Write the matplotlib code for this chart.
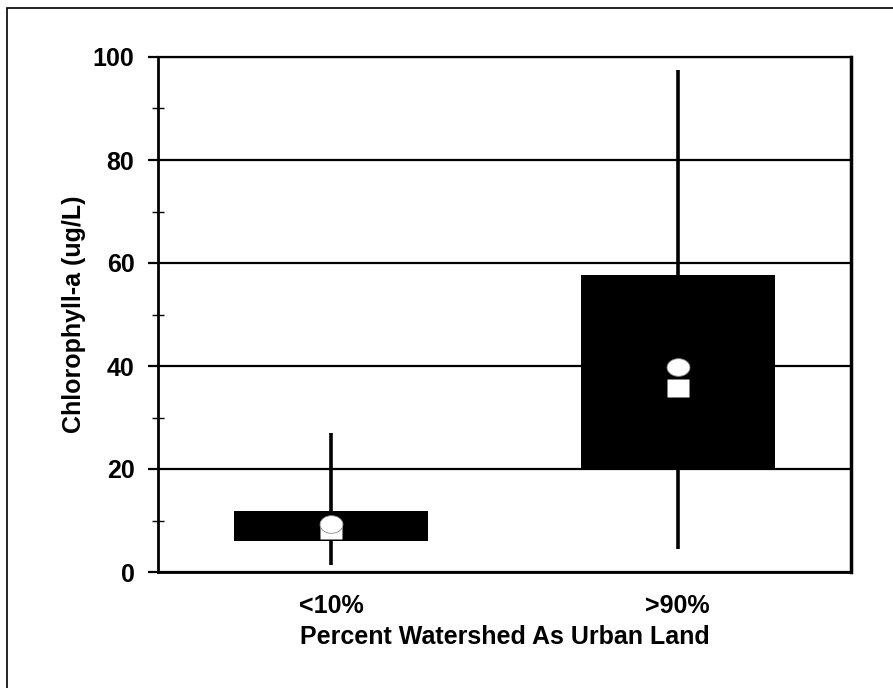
import numpy as np
import matplotlib
matplotlib.use("Agg")
import matplotlib.pyplot as plt
from matplotlib.patches import Rectangle

plt.rcParams['font.family'] = ['Liberation Sans', 'DejaVu Sans']
plt.rcParams['font.weight'] = 'bold'

# data
categories = ['<10%', '>90%']
q1 = [6.0, 20.2]
q3 = [11.8, 57.7]
whisk_lo = [1.4, 4.5]
whisk_hi = [27.0, 97.5]
mean = [9.3, 39.9]
median = [8.1, 35.7]

pos = np.arange(1, len(categories) + 1)
fs = 18

fig = plt.figure(figsize=(8.93, 6.88), dpi=100)
ax = fig.add_axes([158/893, 1 - 572/688, (851 - 158)/893, (572 - 57)/688])

# outer frame (cut off at right and bottom like the original)
fig.patches.append(Rectangle((7/893, -0.1), 1.2, 1 - 8/688 + 0.1,
                             transform=fig.transFigure, fill=False,
                             lw=1.2, ec='black'))

ax.set_xlim(0.5, 2.5)
ax.set_ylim(0, 100)
ax.set_yticks(np.arange(0, 101, 20))
ax.set_yticks(np.arange(10, 100, 20), minor=True)
ax.yaxis.grid(True, which='major', color='black', lw=1.6, zorder=0)
ax.set_axisbelow(True)

ax.vlines(pos, whisk_lo, whisk_hi, color='black', lw=2.6, zorder=2)
ax.bar(pos, np.array(q3) - np.array(q1), bottom=q1, width=0.56,
       color='black', zorder=3)

t = np.linspace(0, 2*np.pi, 60)
ell = list(zip(1.3*np.cos(t), np.sin(t)))
rect = [(-1.3, -1), (1.3, -1), (1.3, 1), (-1.3, 1), (-1.3, -1)]
ax.plot(pos, median, ls='none', marker=rect, ms=16, mfc='white', mec='none', zorder=4)
ax.plot(pos, mean, ls='none', marker=ell, ms=16.5, mfc='white', mec='#888888',
        mew=0.6, zorder=5)

ax.set_xticks(pos)
ax.set_xticklabels(categories, fontsize=fs, fontweight='bold')
ax.tick_params(axis='x', length=0, pad=16)
ax.tick_params(axis='y', which='major', length=7, width=1.6, labelsize=fs, pad=10)
ax.tick_params(axis='y', which='minor', direction='inout', length=9, width=1)

for s in ax.spines.values():
    s.set_color('black')
ax.spines['left'].set_linewidth(2)
ax.spines['bottom'].set_linewidth(2)
ax.spines['top'].set_linewidth(1.6)
ax.spines['right'].set_linewidth(2.5)

ax.set_ylabel('Chlorophyll-a (ug/L)', fontsize=fs, fontweight='bold', labelpad=5)
ax.set_xlabel('Percent Watershed As Urban Land', fontsize=fs, fontweight='bold', labelpad=5)

fig.savefig('out.png', dpi=100, facecolor='white')
